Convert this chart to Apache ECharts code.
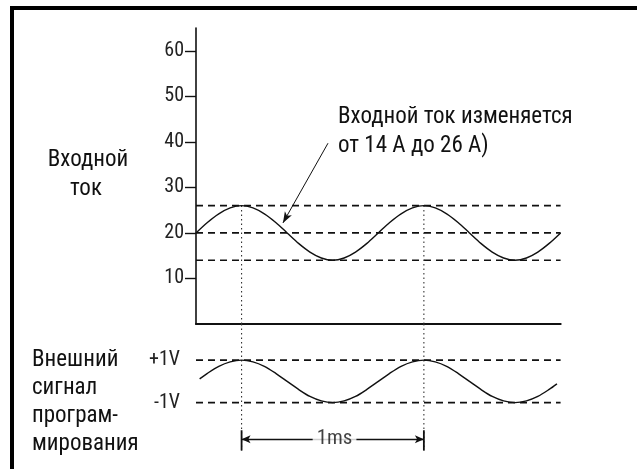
<!DOCTYPE html>
<html>
<head>
<meta charset="utf-8">
<script src="https://cdn.jsdelivr.net/npm/echarts@6/dist/echarts.min.js"></script>
<style>
html,body{margin:0;padding:0;background:#fff;}
#chart{width:637px;height:469px;}
</style>
</head>
<body>
<div id="chart"></div>
<script>
// Upper trace: input current (A) vs time (ms)
var currentTime = [0, 0.0625, 0.125, 0.1875, 0.25, 0.3125, 0.375, 0.4375, 0.5, 0.5625, 0.625, 0.6875, 0.75, 0.8125, 0.875, 0.9375,
  1.0, 1.0625, 1.125, 1.1875, 1.25, 1.3125, 1.375, 1.4375, 1.5, 1.5625, 1.625, 1.6875, 1.75, 1.8125, 1.875, 1.9375, 2.0];
var currentValues = [20, 22.3, 24.2, 25.5, 26, 25.5, 24.2, 22.3, 20, 17.7, 15.8, 14.5, 14, 14.5, 15.8, 17.7,
  20, 22.3, 24.2, 25.5, 26, 25.5, 24.2, 22.3, 20, 17.7, 15.8, 14.5, 14, 14.5, 15.8, 17.7, 20];
// Lower trace: external programming signal (V)
var signalTime = [0.02, 0.0625, 0.125, 0.1875, 0.25, 0.3125, 0.375, 0.4375, 0.5, 0.5625, 0.625, 0.6875, 0.75, 0.8125, 0.875, 0.9375,
  1.0, 1.0625, 1.125, 1.1875, 1.25, 1.3125, 1.375, 1.4375, 1.5, 1.5625, 1.625, 1.6875, 1.75, 1.8125, 1.875, 1.9375, 1.98];
var signalValues = [0.12, 0.38, 0.71, 0.92, 1, 0.92, 0.71, 0.38, 0, -0.38, -0.71, -0.92, -1, -0.92, -0.71, -0.38,
  0, 0.38, 0.71, 0.92, 1, 0.92, 0.71, 0.38, 0, -0.38, -0.71, -0.92, -1, -0.92, -0.71, -0.38, -0.12];
// Reference levels
var currentLevels = [26, 20, 14];
var signalLevels = [1, -1];
var currentTicks = [10, 20, 30, 40, 50, 60];
var signalTickLabels = ['-1V', '+1V'];
var peakTimes = [0.25, 1.25];
var periodLabel = '1ms';
var annotation = ['Входной ток изменяется', 'от 14 А до 26 А)'];
var leftLabelTop = ['Входной', 'ток'];
var leftLabelBottom = ['Внешний', 'сигнал', 'програм-', 'мирования'];

var narrow = '"Roboto Condensed", "DejaVu Sans Condensed", "Liberation Sans", sans-serif';
var ink = '#111';

function pairs(xs, ys) { return xs.map(function (x, i) { return [x, ys[i]]; }); }

var series = [];
// upper curve
series.push({
  type: 'line', xAxisIndex: 0, yAxisIndex: 0, data: pairs(currentTime, currentValues),
  smooth: 0.3, symbol: 'none', lineStyle: { color: ink, width: 1.4 }, z: 5, silent: true
});
// upper dashed levels
currentLevels.forEach(function (v) {
  series.push({
    type: 'line', xAxisIndex: 0, yAxisIndex: 0, data: [[0, v], [2, v]], symbol: 'none',
    lineStyle: { color: ink, width: 1.6, type: [7, 5] }, silent: true
  });
});
// lower curve
series.push({
  type: 'line', xAxisIndex: 1, yAxisIndex: 1, data: pairs(signalTime, signalValues),
  smooth: 0.3, symbol: 'none', lineStyle: { color: ink, width: 1.4 }, z: 5, silent: true
});
signalLevels.forEach(function (v) {
  series.push({
    type: 'line', xAxisIndex: 1, yAxisIndex: 1, data: [[0, v], [2, v]], symbol: 'none',
    lineStyle: { color: ink, width: 1.6, type: [7, 5] }, silent: true
  });
});
// vertical dotted lines at peaks (upper part and lower part)
peakTimes.forEach(function (t) {
  series.push({
    type: 'line', xAxisIndex: 0, yAxisIndex: 0, data: [[t, 26], [t, 0]], symbol: 'none',
    lineStyle: { color: '#333', width: 1.1, type: [1.5, 3] }, silent: true
  });
  series.push({
    type: 'line', xAxisIndex: 1, yAxisIndex: 1, data: [[t, 2.7], [t, -3.25]], symbol: 'none',
    lineStyle: { color: '#333', width: 1.1, type: [1.5, 3] }, silent: true
  });
  // 1ms marker end bars
  series.push({
    type: 'line', xAxisIndex: 1, yAxisIndex: 1, data: [[t, -2.3], [t, -3.25]], symbol: 'none',
    lineStyle: { color: ink, width: 1.8 }, silent: true
  });
});
// 1ms dimension line with arrows and label
series.push({
  type: 'scatter', xAxisIndex: 1, yAxisIndex: 1, data: [[(peakTimes[0] + peakTimes[1]) / 2 + 0.01, -2.72]],
  symbolSize: 0, silent: true, z: 10,
  label: {
    show: true, position: 'inside', formatter: periodLabel, color: ink,
    fontFamily: narrow, fontSize: 21, backgroundColor: '#fff', padding: [0, 4]
  },
  markLine: {
    silent: true, symbol: ['arrow', 'arrow'], symbolSize: [6, 9],
    lineStyle: { color: ink, width: 1.4, type: 'solid' }, label: { show: false },
    data: [[{ coord: [peakTimes[0], -2.72] }, { coord: [peakTimes[1], -2.72] }]]
  }
});
// leader line to the upper curve
series.push({
  type: 'line', xAxisIndex: 0, yAxisIndex: 0, data: [], silent: true,
  markLine: {
    silent: true, symbol: ['none', 'arrow'], symbolSize: [6, 11],
    lineStyle: { color: ink, width: 1, type: 'solid' }, label: { show: false },
    data: [[{ coord: [0.724, 39.7] }, { coord: [0.477, 22.2] }]]
  }
});

var textFont = '23px ' + narrow;
function txt(x, y, s, align) {
  return { type: 'text', x: x, y: y, silent: true,
    style: { text: s, fill: ink, font: textFont, align: align, verticalAlign: 'middle' } };
}

var option = {
  animation: false,
  backgroundColor: '#fff',
  grid: [
    { left: 196, top: 28, width: 364.6, height: 296 },
    { left: 196, top: 324, width: 364.6, height: 131.75 }
  ],
  xAxis: [
    { type: 'value', gridIndex: 0, min: 0, max: 2, axisLine: { show: true, lineStyle: { color: ink, width: 2.2 } },
      axisTick: { show: false }, axisLabel: { show: false }, splitLine: { show: false } },
    { type: 'value', gridIndex: 1, min: 0, max: 2, show: false, splitLine: { show: false } }
  ],
  yAxis: [
    { type: 'value', gridIndex: 0, min: 0, max: 65,
      axisLine: { show: true, lineStyle: { color: ink, width: 1.6 } },
      axisTick: { show: true, length: 11, customValues: currentTicks, lineStyle: { color: ink, width: 1.4 } },
      axisLabel: { show: true, customValues: currentTicks, margin: 12, color: '#222',
        fontFamily: '"Roboto Condensed", sans-serif', fontSize: 20 },
      splitLine: { show: false } },
    { type: 'value', gridIndex: 1, min: -3.5, max: 2.7,
      axisLine: { show: false }, axisTick: { show: false }, splitLine: { show: false },
      axisLabel: { show: true, customValues: signalLevels.slice().reverse(), margin: 16, color: '#222',
        fontFamily: narrow, fontSize: 20,
        formatter: function (v) { return v > 0 ? signalTickLabels[1] : signalTickLabels[0]; } } }
  ],
  graphic: [
    { type: 'rect', shape: { x: 10, y: 6, width: 627, height: 4 }, style: { fill: '#000' }, silent: true },
    { type: 'rect', shape: { x: 10, y: 6, width: 4, height: 463 }, style: { fill: '#000' }, silent: true },
    txt(88, 160, leftLabelTop[0], 'center'),
    txt(86, 189, leftLabelTop[1], 'center'),
    txt(338, 117, annotation[0], 'left'),
    txt(338, 146, annotation[1], 'left'),
    txt(32, 360, leftLabelBottom[0], 'left'),
    txt(32, 388, leftLabelBottom[1], 'left'),
    txt(32, 416, leftLabelBottom[2], 'left'),
    txt(32, 444, leftLabelBottom[3], 'left')
  ],
  series: series
};

var chart = echarts.init(document.getElementById('chart'), null, { renderer: 'canvas' });
chart.setOption(option);
</script>
</body>
</html>
